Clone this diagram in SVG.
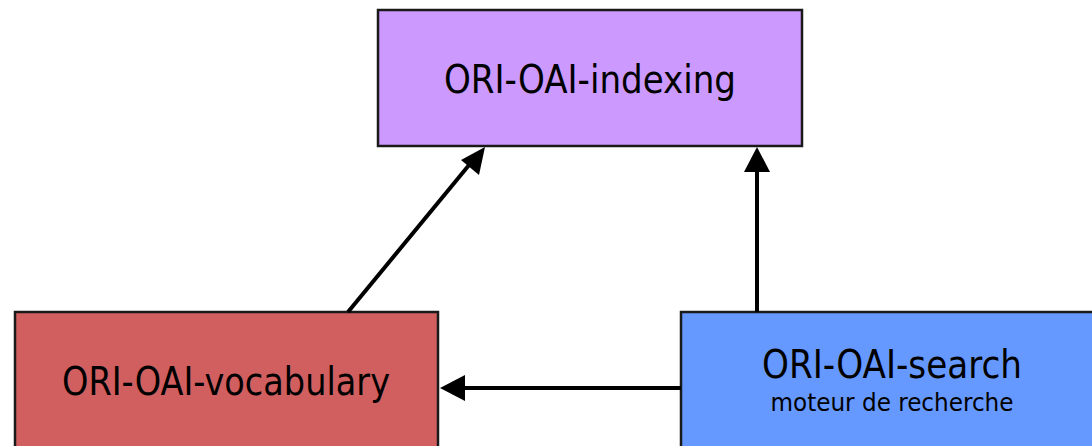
<svg xmlns="http://www.w3.org/2000/svg" width="1092" height="446" viewBox="0 0 1092 446">
<defs>
<style>
.box{stroke:#1a1a1a;stroke-width:2.5}
.t{font-family:"DejaVu Sans Condensed","DejaVu Sans",sans-serif;fill:#000;text-anchor:middle}
.big{font-size:39px}
.small{font-size:24px}
.c{stroke:#000;stroke-width:4;fill:none}
</style>
</defs>
<rect width="1092" height="446" fill="#fff"/>
<g id="indexing">
<rect class="box" x="378" y="10" width="424" height="136" fill="#cc99ff"/>
<text class="t big" x="590" y="93" textLength="292" lengthAdjust="spacingAndGlyphs">ORI-OAI-indexing</text>
</g>
<g id="vocabulary">
<rect class="box" x="15" y="312" width="423" height="150" fill="#d15f5f"/>
<text class="t big" x="226" y="395" textLength="328" lengthAdjust="spacingAndGlyphs">ORI-OAI-vocabulary</text>
</g>
<g id="search">
<rect class="box" x="681" y="312" width="420" height="150" fill="#6699ff"/>
<text class="t big" x="892" y="378" textLength="260" lengthAdjust="spacingAndGlyphs">ORI-OAI-search</text>
<text class="t small" x="892" y="411" textLength="243" lengthAdjust="spacingAndGlyphs">moteur de recherche</text>
</g>
<g id="connectors">
<line class="c" x1="348" y1="312" x2="474" y2="159"/>
<path d="M485,147 L479,175 L461,160 z" fill="#000"/>
<line class="c" x1="757" y1="312" x2="757" y2="170"/>
<path d="M757,147 L770,172 L744,172 z" fill="#000"/>
<line class="c" x1="681" y1="388" x2="460" y2="388"/>
<path d="M440,388 L465,375 L465,401 z" fill="#000"/>
</g>
</svg>
